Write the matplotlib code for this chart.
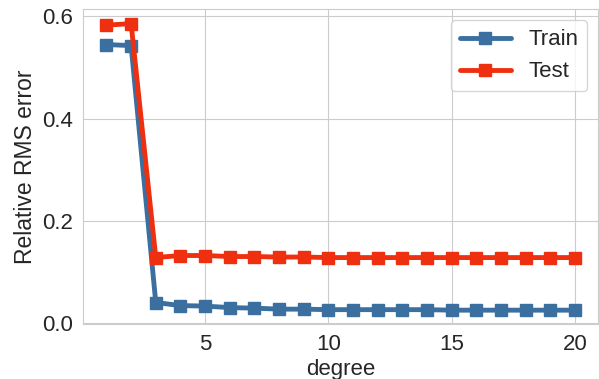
"""Train vs test relative RMS error by polynomial degree."""

import matplotlib
matplotlib.use("Agg")
import matplotlib.pyplot as plt
import seaborn as sns


degree = list(range(1, 21))
train_error = [0.545, 0.543, 0.040, 0.034, 0.033, 0.030, 0.029, 0.027, 0.027, 0.026,
               0.026, 0.026, 0.026, 0.026, 0.025, 0.025, 0.025, 0.025, 0.025, 0.025]
test_error = [0.583, 0.586, 0.128, 0.132, 0.132, 0.130, 0.130, 0.129, 0.129, 0.128,
              0.128, 0.128, 0.128, 0.128, 0.128, 0.128, 0.128, 0.128, 0.128, 0.128]

sns.set_style("whitegrid")
plt.rcParams["font.family"] = ["Liberation Sans", "DejaVu Sans"]
plt.rcParams["font.size"] = 16

fig = plt.figure(figsize=(5.99, 3.79), dpi=100)
ax = fig.add_axes([0.1386, 0.1438, 0.8604, 0.8317])

ax.plot(degree, train_error, marker="s", color="#3a6f9f", linewidth=3.5,
        markersize=9, label="Train")
ax.plot(degree, test_error, marker="s", color="#ef3010", linewidth=3.5,
        markersize=9, label="Test")

ax.set_xlabel("degree", fontsize=16, color=".15", labelpad=3)
ax.set_ylabel("Relative RMS error", fontsize=16.5, color=".15")
ax.tick_params(labelsize=16, colors=".15")
ax.set_yticks([0.0, 0.2, 0.4, 0.6])
ax.legend(loc="upper right", fontsize=16, handlelength=2.3)

fig.savefig("out.png", dpi=100)
plt.close(fig)
